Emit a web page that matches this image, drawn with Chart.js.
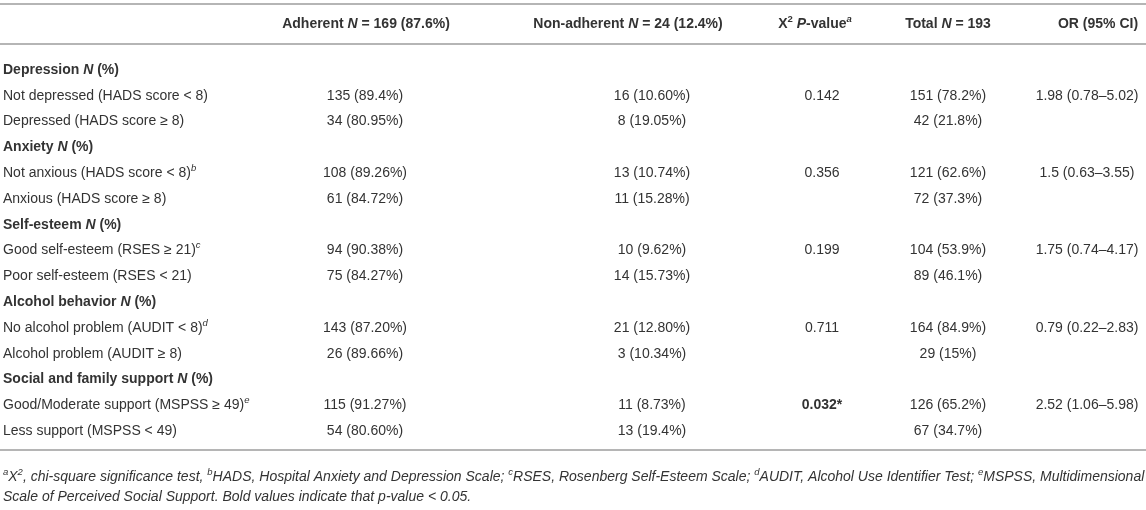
<!DOCTYPE html>
<html lang="en">
<head>
    <meta charset="UTF-8">
    <title>Adherence by psychosocial factors</title>
    <script src="https://cdn.jsdelivr.net/npm/chart.js@4.4.1/dist/chart.umd.min.js"></script>
    <style>
        html, body { margin: 0; padding: 0; background: #fff; }
        .table-wrap { position: relative; width: 1146px; height: 510px; }
    </style>
</head>
<body>
    <div class="table-wrap">
        <canvas id="tableChart"></canvas>
    </div>

    <script>
        // Table content (markup: <b>, <i>, <sup>)
        const headers = ['', 'Adherent <i>N</i> = 169 (87.6%)', 'Non-adherent <i>N</i> = 24 (12.4%)',
            'X<sup>2</sup> <i>P</i>-value<sup><i>a</i></sup>', 'Total <i>N</i> = 193', 'OR (95% CI)'];
        const groups = ['Depression', 'Anxiety', 'Self-esteem', 'Alcohol behavior', 'Social and family support'];
        const levels = [
            'Not depressed (HADS score < 8)', 'Depressed (HADS score ≥ 8)',
            'Not anxious (HADS score < 8)<sup><i>b</i></sup>', 'Anxious (HADS score ≥ 8)',
            'Good self-esteem (RSES ≥ 21)<sup><i>c</i></sup>', 'Poor self-esteem (RSES < 21)',
            'No alcohol problem (AUDIT < 8)<sup><i>d</i></sup>', 'Alcohol problem (AUDIT ≥ 8)',
            'Good/Moderate support (MSPSS ≥ 49)<sup><i>e</i></sup>', 'Less support (MSPSS < 49)'
        ];
        const adherent = ['135 (89.4%)', '34 (80.95%)', '108 (89.26%)', '61 (84.72%)', '94 (90.38%)',
            '75 (84.27%)', '143 (87.20%)', '26 (89.66%)', '115 (91.27%)', '54 (80.60%)'];
        const nonAdherent = ['16 (10.60%)', '8 (19.05%)', '13 (10.74%)', '11 (15.28%)', '10 (9.62%)',
            '14 (15.73%)', '21 (12.80%)', '3 (10.34%)', '11 (8.73%)', '13 (19.4%)'];
        const pValues = ['0.142', '0.356', '0.199', '0.711', '0.032*'];
        const totals = ['151 (78.2%)', '42 (21.8%)', '121 (62.6%)', '72 (37.3%)', '104 (53.9%)',
            '89 (46.1%)', '164 (84.9%)', '29 (15%)', '126 (65.2%)', '67 (34.7%)'];
        const oddsRatios = ['1.98 (0.78–5.02)', '1.5 (0.63–3.55)', '1.75 (0.74–4.17)',
            '0.79 (0.22–2.83)', '2.52 (1.06–5.98)'];
        const footnotes = [
            '<i><sup>a</sup>X<sup>2</sup>, chi-square significance test, <sup>b</sup>HADS, Hospital Anxiety and Depression Scale; <sup>c</sup>RSES, Rosenberg Self-Esteem Scale; <sup>d</sup>AUDIT, Alcohol Use Identifier Test; <sup>e</sup>MSPSS, Multidimensional</i>',
            '<i>Scale of Perceived Social Support. Bold values indicate that p-value < 0.05.</i>'
        ];

        // Build the row list: group heading followed by its two levels
        const rows = [];
        groups.forEach((g, gi) => {
            rows.push({ cells: ['<b>' + g + ' <i>N</i> (%)</b>', '', '', '', '', ''] });
            for (let k = 0; k < 2; k++) {
                const li = gi * 2 + k;
                const p = k === 0 ? pValues[gi] : '';
                const pCell = p && parseFloat(p) < 0.05 ? '<b>' + p + '</b>' : p;
                rows.push({ cells: [levels[li], adherent[li], nonAdherent[li], pCell, totals[li], k === 0 ? oddsRatios[gi] : ''] });
            }
        });
        const rowKeys = rows.map((r, i) => 'r' + i);

        // Layout
        const FONT = '"Liberation Sans", Arial, Helvetica, sans-serif';
        const TEXT = '#333333';
        const RULE = '#b5b5b5';
        const headX = [3, 366, 628, 815, 948, 1098];
        const cellX = [3, 365, 652, 822, 948, 1087];

        function parseRich(str) {
            const out = [];
            let b = 0, it = 0, sup = 0, last = 0, m;
            const re = /<(\/?)(b|i|sup)>/g;
            while ((m = re.exec(str)) !== null) {
                if (m.index > last) out.push({ t: str.slice(last, m.index), b: b > 0, i: it > 0, sup: sup > 0 });
                const d = m[1] ? -1 : 1;
                if (m[2] === 'b') b += d; else if (m[2] === 'i') it += d; else sup += d;
                last = re.lastIndex;
            }
            if (last < str.length) out.push({ t: str.slice(last), b: b > 0, i: it > 0, sup: sup > 0 });
            return out;
        }

        function fontFor(seg, size, bold) {
            const s = seg.sup ? size * 0.68 : size;
            return (seg.i ? 'italic ' : '') + ((seg.b || bold) ? 'bold ' : '') + s.toFixed(1) + 'px ' + FONT;
        }

        function drawRich(ctx, str, x, y, align, size, bold) {
            const segs = parseRich(str);
            let w = 0;
            segs.forEach(s => { ctx.font = fontFor(s, size, bold); s.w = ctx.measureText(s.t).width; w += s.w; });
            let cx = align === 'center' ? x - w / 2 : x;
            ctx.textAlign = 'left';
            ctx.textBaseline = 'middle';
            segs.forEach(s => {
                ctx.font = fontFor(s, size, bold);
                ctx.fillText(s.t, cx, s.sup ? y - size * 0.36 : y);
                cx += s.w;
            });
        }

        const tablePlugin = {
            id: 'tablePlugin',
            beforeDraw(chart) {
                const ctx = chart.ctx;
                ctx.save();
                ctx.fillStyle = '#fff';
                ctx.fillRect(0, 0, chart.width, chart.height);
                ctx.restore();
            },
            afterDraw(chart) {
                const ctx = chart.ctx;
                const xs = chart.scales.x, ys = chart.scales.y;
                ctx.save();
                ctx.fillStyle = TEXT;

                // rules
                ctx.strokeStyle = RULE;
                ctx.lineWidth = 2;
                [4, 44, 450].forEach(y => {
                    ctx.beginPath();
                    ctx.moveTo(xs.getPixelForValue(0), y);
                    ctx.lineTo(xs.getPixelForValue(1146), y);
                    ctx.stroke();
                });

                // header
                headers.forEach((h, c) => {
                    if (h) drawRich(ctx, h, xs.getPixelForValue(headX[c]), 24, 'center', 14, true);
                });

                // body
                rows.forEach((r, ri) => {
                    const y = ys.getPixelForValue(ri);
                    r.cells.forEach((cell, c) => {
                        if (!cell) return;
                        drawRich(ctx, cell, xs.getPixelForValue(cellX[c]), y, c === 0 ? 'left' : 'center', 14, false);
                    });
                });

                // footnotes
                drawRich(ctx, footnotes[0], 3, 477, 'left', 14, false);
                drawRich(ctx, footnotes[1], 3, 497, 'left', 14, false);
                ctx.restore();
            }
        };

        new Chart(document.getElementById('tableChart'), {
            type: 'scatter',
            data: {
                labels: rowKeys,
                datasets: [{ data: [], showLine: false }]
            },
            options: {
                responsive: true,
                maintainAspectRatio: false,
                animation: false,
                layout: { padding: { top: 57, bottom: 66, left: 0, right: 0 } },
                scales: {
                    x: { type: 'linear', min: 0, max: 1146, display: false },
                    y: { type: 'category', labels: rowKeys, offset: true, display: false }
                },
                plugins: {
                    legend: { display: false },
                    tooltip: { enabled: false }
                }
            },
            plugins: [tablePlugin]
        });
    </script>
</body>
</html>
